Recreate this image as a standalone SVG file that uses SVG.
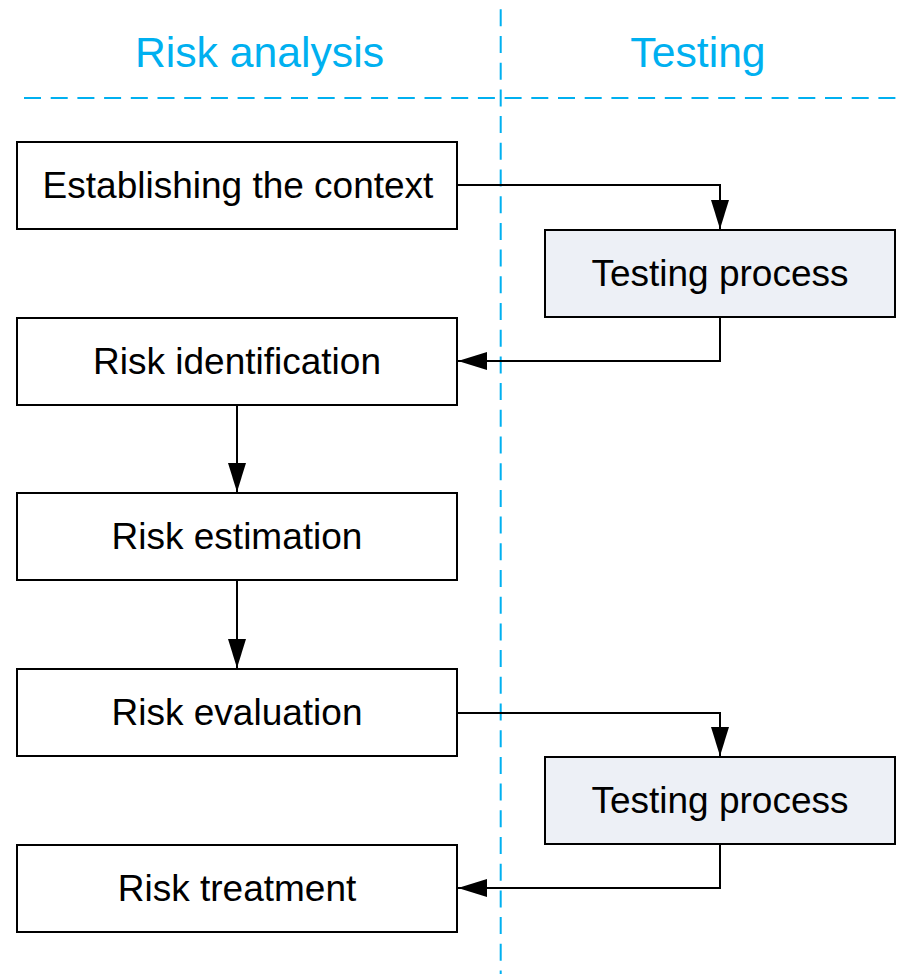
<svg xmlns="http://www.w3.org/2000/svg" width="899" height="974" viewBox="0 0 899 974">
<style>
.box{fill:#fff;stroke:#000;stroke-width:2}
.tbox{fill:#edf0f6;stroke:#000;stroke-width:2}
.lbl{font-family:"Liberation Sans",Arial,sans-serif;font-size:37px;fill:#000;text-anchor:middle}
.hdr{font-family:"Liberation Sans",Arial,sans-serif;font-size:42.7px;fill:#00b0f0;text-anchor:middle}
.lane{stroke:#00b0f0;stroke-width:2;stroke-dasharray:17 9.7;fill:none}
.conn{stroke:#000;stroke-width:2;fill:none;marker-end:url(#ah)}
</style>
<defs>
<marker id="ah" markerUnits="userSpaceOnUse" markerWidth="30" markerHeight="20" refX="29" refY="9" orient="auto">
<path d="M0,0 L29,9 L0,18 z" fill="#000"/>
</marker>
</defs>
<g id="lanes">
<line class="lane" x1="500.7" y1="9.3" x2="500.7" y2="974"/>
<line class="lane" x1="24" y1="98" x2="899" y2="98"/>
<text class="hdr" x="259.5" y="66.7">Risk analysis</text>
<text class="hdr" x="698" y="66.7">Testing</text>
</g>
<g id="n1"><rect class="box" x="17" y="142" width="440" height="87"/><text class="lbl" x="238" y="198">Establishing the context</text></g>
<g id="t1"><rect class="tbox" x="545" y="230" width="350" height="87"/><text class="lbl" x="720" y="286">Testing process</text></g>
<g id="n2"><rect class="box" x="17" y="318" width="440" height="87"/><text class="lbl" x="237" y="374">Risk identification</text></g>
<g id="n3"><rect class="box" x="17" y="493" width="440" height="87"/><text class="lbl" x="237" y="549">Risk estimation</text></g>
<g id="n4"><rect class="box" x="17" y="669" width="440" height="87"/><text class="lbl" x="237" y="725">Risk evaluation</text></g>
<g id="t2"><rect class="tbox" x="545" y="757" width="350" height="87"/><text class="lbl" x="720" y="813">Testing process</text></g>
<g id="n5"><rect class="box" x="17" y="845" width="440" height="87"/><text class="lbl" x="237" y="901">Risk treatment</text></g>
<g id="connectors">
<polyline class="conn" points="457,185 720,185 720,229"/>
<polyline class="conn" points="720,317 720,361 458,361"/>
<line class="conn" x1="237" y1="405" x2="237" y2="492"/>
<line class="conn" x1="237" y1="580" x2="237" y2="668"/>
<polyline class="conn" points="457,713 720,713 720,756"/>
<polyline class="conn" points="720,844 720,888 458,888"/>
</g>
</svg>
